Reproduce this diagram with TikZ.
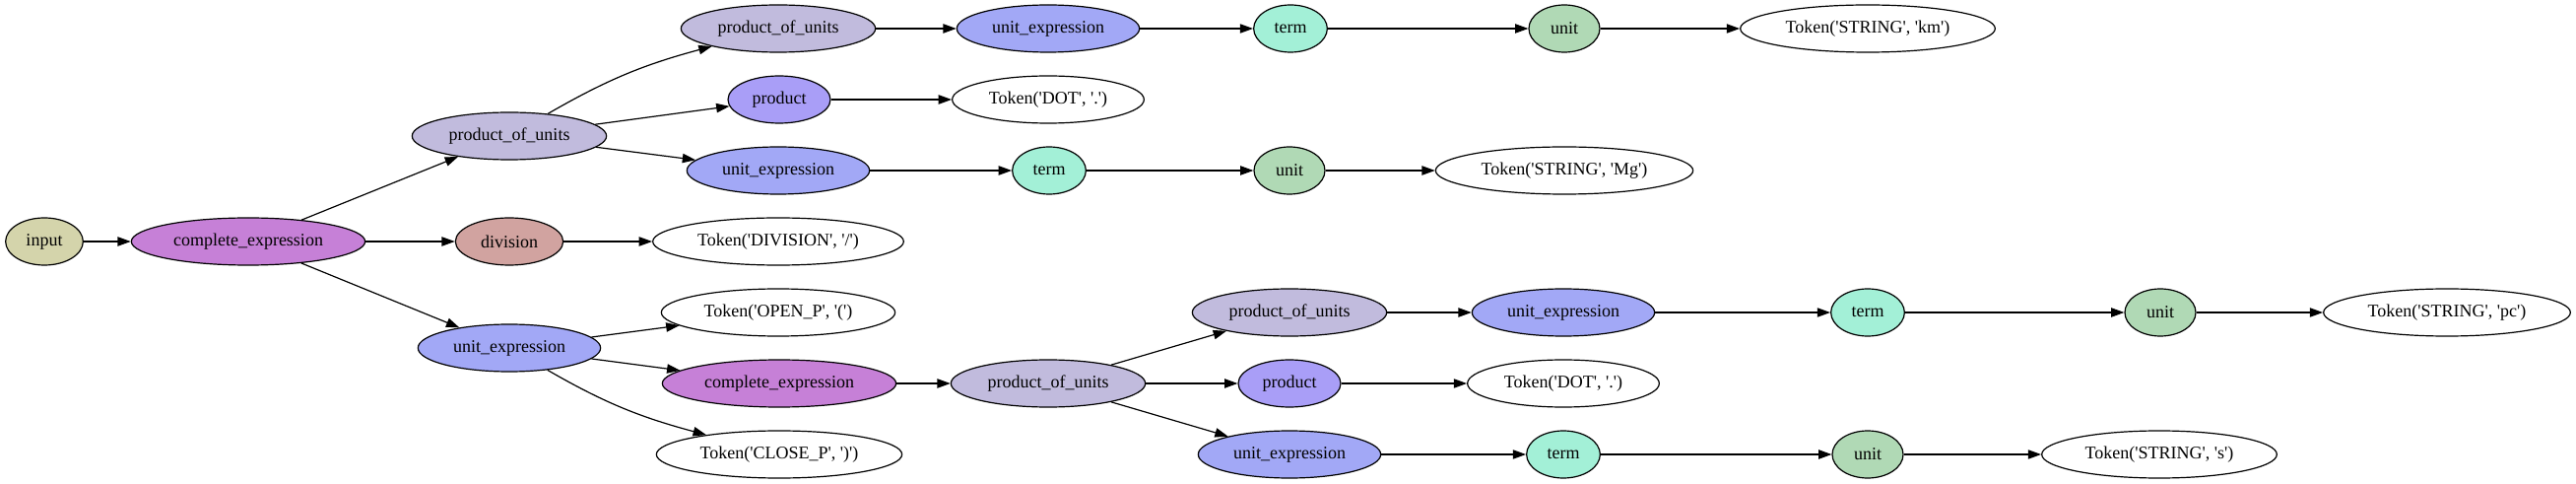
\documentclass[tikz,border=0pt]{standalone}
\usepackage{fontspec}
\setmainfont{Liberation Serif}
\usetikzlibrary{shapes.geometric,arrows.meta}
\newcommand\sq{\textquotesingle}
\definecolor{cinput}{HTML}{D4D4AB}
\definecolor{ccomp}{HTML}{C680D7}
\definecolor{cprodu}{HTML}{C1BBDD}
\definecolor{cprod}{HTML}{A99EF7}
\definecolor{cunitx}{HTML}{A2A8F6}
\definecolor{cterm}{HTML}{A3F0D7}
\definecolor{cunit}{HTML}{B0D9B5}
\definecolor{cdiv}{HTML}{D1A3A0}
\tikzset{
  nd/.style={ellipse, draw=black, line width=0.9pt, inner sep=0pt, minimum height=36pt,
    font=\fontsize{13.5}{15}\selectfont},
  wI/.style={nd, fill=cinput, minimum width=59pt},
  wCE/.style={nd, fill=ccomp, minimum width=178pt},
  wPU/.style={nd, fill=cprodu, minimum width=148pt},
  wP/.style={nd, fill=cprod, minimum width=78pt},
  wUE/.style={nd, fill=cunitx, minimum width=139pt},
  wT/.style={nd, fill=cterm, minimum width=56pt},
  wU/.style={nd, fill=cunit, minimum width=54pt},
  wD/.style={nd, fill=cdiv, minimum width=82pt},
  tok/.style={nd, fill=white},
  ar/.style={-{Triangle[length=10pt,width=7pt]}, line width=0.9pt}
}
\begin{document}
\begin{tikzpicture}[x=0.75pt,y=-0.75pt]
\useasboundingbox (0,0) rectangle (2615,491);
\node[wI] (in) at (45,245) {input};
\node[wCE] (ce1) at (252,245) {complete\_expression};
\node[wPU] (pu1) at (517,138) {product\_of\_units};
\node[wD] (dv) at (517,245) {division};
\node[wUE] (ue1) at (517,353) {unit\_expression};
\node[wPU] (pu2) at (790,29) {product\_of\_units};
\node[wP] (p1) at (791,101) {product};
\node[wUE] (ue2) at (790,173) {unit\_expression};
\node[tok, minimum width=191pt] (tdiv) at (790,245) {Token(\sq DIVISION\sq, \sq/\sq)};
\node[tok, minimum width=178pt] (topen) at (790,317) {Token(\sq OPEN\_P\sq, \sq(\sq)};
\node[wCE] (ce2) at (791,389) {complete\_expression};
\node[tok, minimum width=187pt] (tclose) at (791,461) {Token(\sq CLOSE\_P\sq, \sq)\sq)};
\node[wUE] (ue3) at (1064,29) {unit\_expression};
\node[tok, minimum width=146pt] (tdot1) at (1064,101) {Token(\sq DOT\sq, \sq.\sq)};
\node[wT] (t2) at (1065,173) {term};
\node[wPU] (pu3) at (1064,389) {product\_of\_units};
\node[wT] (t1) at (1310,29) {term};
\node[wU] (u2) at (1309,173) {unit};
\node[wPU] (pu4) at (1309,317) {product\_of\_units};
\node[wP] (p2) at (1309,389) {product};
\node[wUE] (ue5) at (1309,461) {unit\_expression};
\node[wU] (u1) at (1588,29) {unit};
\node[tok, minimum width=196pt] (tmg) at (1588,173) {Token(\sq STRING\sq, \sq Mg\sq)};
\node[wUE] (ue4) at (1587,317) {unit\_expression};
\node[tok, minimum width=146pt] (tdot2) at (1587,389) {Token(\sq DOT\sq, \sq.\sq)};
\node[wT] (t4) at (1587,461) {term};
\node[tok, minimum width=194pt] (tkm) at (1896,29) {Token(\sq STRING\sq, \sq km\sq)};
\node[wT] (t3) at (1896,317) {term};
\node[wU] (u4) at (1896,461) {unit};
\node[wU] (u3) at (2193,317) {unit};
\node[tok, minimum width=179pt] (ts) at (2192,461) {Token(\sq STRING\sq, \sq s\sq)};
\node[tok, minimum width=188pt] (tpc) at (2484,317) {Token(\sq STRING\sq, \sq pc\sq)};

\draw[ar] (in) -- (ce1);
\draw[ar] (ce1) -- (pu1);
\draw[ar] (ce1) -- (dv);
\draw[ar] (ce1) -- (ue1);
\draw[ar] (pu1) to[out=30,in=195] (pu2);
\draw[ar] (pu1) -- (p1);
\draw[ar] (pu1) -- (ue2);
\draw[ar] (pu2) -- (ue3);
\draw[ar] (ue3) -- (t1);
\draw[ar] (t1) -- (u1);
\draw[ar] (u1) -- (tkm);
\draw[ar] (p1) -- (tdot1);
\draw[ar] (ue2) -- (t2);
\draw[ar] (t2) -- (u2);
\draw[ar] (u2) -- (tmg);
\draw[ar] (dv) -- (tdiv);
\draw[ar] (ue1) -- (topen);
\draw[ar] (ue1) -- (ce2);
\draw[ar] (ue1) to[out=-30,in=165] (tclose);
\draw[ar] (ce2) -- (pu3);
\draw[ar] (pu3) -- (pu4);
\draw[ar] (pu3) -- (p2);
\draw[ar] (pu3) -- (ue5);
\draw[ar] (pu4) -- (ue4);
\draw[ar] (ue4) -- (t3);
\draw[ar] (t3) -- (u3);
\draw[ar] (u3) -- (tpc);
\draw[ar] (p2) -- (tdot2);
\draw[ar] (ue5) -- (t4);
\draw[ar] (t4) -- (u4);
\draw[ar] (u4) -- (ts);
\end{tikzpicture}
\end{document}
